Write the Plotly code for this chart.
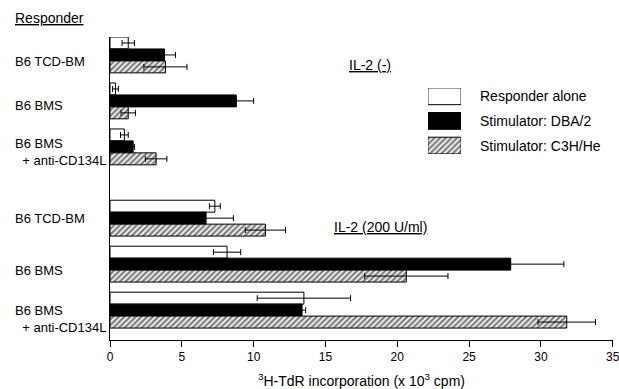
import plotly.graph_objects as go

# ---- data ----
group_labels = ["B6 TCD-BM", "B6 BMS", "B6 BMS<br>\u00a0\u00a0+ anti-CD134L",
                "B6 TCD-BM", "B6 BMS", "B6 BMS<br>\u00a0\u00a0+ anti-CD134L"]
group_pos = [0, 1, 2, 3.55, 4.55, 5.55]
label_shift = [-7, -5, -5, 0, -6, -9]

series_names = ["Responder alone", "Stimulator: DBA/2", "Stimulator: C3H/He"]
responder_alone = [1.27, 0.38, 1.0, 7.3, 8.15, 13.5]
responder_alone_err = [0.43, 0.2, 0.27, 0.38, 0.95, 3.25]
dba2 = [3.79, 8.8, 1.61, 6.69, 27.9, 13.37]
dba2_err = [0.77, 1.2, 0.1, 1.9, 3.7, 0.25]
c3hhe = [3.86, 1.27, 3.21, 10.82, 20.63, 31.8]
c3hhe_err = [1.5, 0.5, 0.75, 1.4, 2.9, 2.0]

x_ticks = [0, 5, 10, 15, 20, 25, 30, 35]

FONT = "Liberation Sans, Arial, sans-serif"

styles = [
    dict(color="white", pattern=dict(shape="")),
    dict(color="black", pattern=dict(shape="")),
    dict(color="white", pattern=dict(shape="/", fgcolor="black", bgcolor="white", size=4, solidity=0.6)),
]

fig = go.Figure()
vals = [responder_alone, dba2, c3hhe]
errs = [responder_alone_err, dba2_err, c3hhe_err]
for name, v, e, st in zip(series_names, vals, errs, styles):
    fig.add_trace(go.Bar(
        x=v, y=group_pos, orientation="h", name=name, showlegend=False,
        marker=dict(color=st["color"], pattern=st["pattern"], line=dict(color="black", width=1)),
        error_x=dict(type="data", array=e, visible=True, color="black", thickness=1, width=3),
    ))

# legend key drawn in an inset axis
legend_rows = [0, 1, 2]
for name, row, st in zip(series_names, legend_rows, styles):
    fig.add_trace(go.Bar(
        x=[1], y=[row], orientation="h", xaxis="x2", yaxis="y2", showlegend=False,
        marker=dict(color=st["color"], pattern=st["pattern"], line=dict(color="black", width=1)),
        width=0.68, hoverinfo="skip",
    ))

annotations = []
for lab, pos, sh in zip(group_labels, group_pos, label_shift):
    annotations.append(dict(text=lab, x=-0.1928, xref="paper", y=pos, yref="y", yshift=sh,
                            xanchor="left", yanchor="middle", align="left", showarrow=False,
                            font=dict(size=13, color="black", family=FONT)))
for name, row in zip(series_names, legend_rows):
    annotations.append(dict(text=name, x=0.7316, xref="paper", y=row, yref="y2",
                            xanchor="left", yanchor="middle", showarrow=False,
                            font=dict(size=14, color="black", family=FONT)))
annotations += [
    dict(text="<u>Responder</u>", x=-0.1928, xref="paper", y=1.063, yref="paper",
         xanchor="left", yanchor="middle", showarrow=False, font=dict(size=14, color="black", family=FONT)),
    dict(text="<u>IL-2 (-)</u>", x=0.517, xref="paper", y=0.908, yref="paper",
         xanchor="center", yanchor="middle", showarrow=False, font=dict(size=14, color="black", family=FONT)),
    dict(text="<u>IL-2 (200 U/ml)</u>", x=0.537, xref="paper", y=0.373, yref="paper",
         xanchor="center", yanchor="middle", showarrow=False, font=dict(size=14, color="black", family=FONT)),
]

fig.update_layout(
    width=619, height=389,
    margin=dict(l=110, r=6, t=37, b=49),
    paper_bgcolor="white", plot_bgcolor="white",
    barmode="group", bargap=0.22, bargroupgap=0,
    font=dict(family=FONT, color="black", size=12),
    xaxis=dict(range=[0, 35.02], tickvals=x_ticks, ticks="outside", ticklen=6, tickcolor="black",
               showline=True, linecolor="black", linewidth=1, showgrid=False, zeroline=False,
               tickfont=dict(size=12), ticklabeloverflow="allow", automargin=False,
               title=dict(text="<sup>3</sup>H-TdR incorporation (x 10<sup>3</sup> cpm)",
                          font=dict(size=14), standoff=20)),
    yaxis=dict(range=[6.2, -0.39], showline=True, linecolor="black", linewidth=1,
               showticklabels=False, ticks="", showgrid=False, zeroline=False, automargin=False),
    xaxis2=dict(domain=[0.632, 0.698], range=[0, 1], anchor="y2", visible=False, fixedrange=True),
    yaxis2=dict(domain=[0.614, 0.832], range=[2.34, -0.34], anchor="x2", visible=False, fixedrange=True),
    annotations=annotations,
)

fig.write_html("out.html", config={"displayModeBar": False},
               post_script="document.body.style.margin='0';document.body.style.overflow='hidden';")
